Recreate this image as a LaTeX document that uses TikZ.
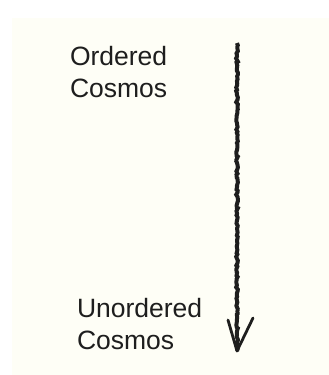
\documentclass[tikz,border=0pt]{standalone}
\usepackage{fontspec}
\setmainfont{Liberation Sans}
\usetikzlibrary{decorations.pathmorphing}
\definecolor{cream}{HTML}{FEFEF6}
\definecolor{ink}{HTML}{1E1E1E}
\begin{document}
\begin{tikzpicture}[x=1pt,y=-1pt,
  label/.style={inner sep=0pt,outer sep=0pt,anchor=base west,align=left,
    font=\fontsize{26.5}{32}\selectfont,text=ink},
  shaft/.style={draw=ink,line width=4pt,decorate,
    decoration={random steps,segment length=2pt,amplitude=0.9pt}},
  barb/.style={draw=ink,line width=2.8pt,line cap=round,line join=round}]
\useasboundingbox (0,0) rectangle (329,375);
\fill[white] (0,0) rectangle (329,375);
\fill[cream] (12,18) rectangle (329,375);
\node[label] (ord) at (70,97) {Ordered\\Cosmos};
\node[label] (unord) at (77,349) {Unordered\\Cosmos};
\coordinate (top) at (237,43);
\coordinate (tip) at (237,351);
\coordinate (lw) at (228,320);
\coordinate (rw) at (253,318);
\path[shaft] (top) -- (tip);
\draw[barb] (lw) -- (tip) -- (rw);
\end{tikzpicture}
\end{document}
